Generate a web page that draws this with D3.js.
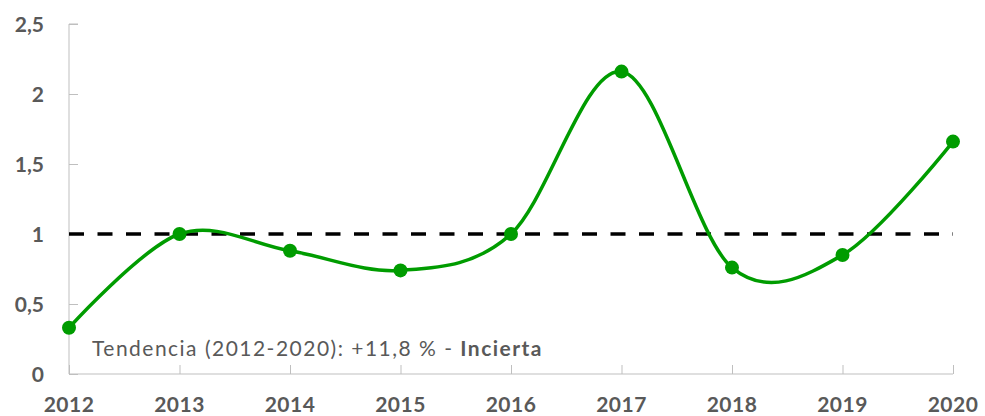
<!DOCTYPE html>
<html>
<head>
<meta charset="utf-8">
<script src="https://cdn.jsdelivr.net/npm/d3@7"></script>
<style>
  body { margin: 0; background: #fff; }
  svg text { font-family: Lato, "Open Sans", sans-serif; fill: #595959; }
</style>
</head>
<body>
<svg id="chart" width="985" height="416"></svg>
<script>
const years = [2012, 2013, 2014, 2015, 2016, 2017, 2018, 2019, 2020];
const values = [0.33, 1.0, 0.88, 0.74, 1.0, 2.16, 0.76, 0.85, 1.66];
const yTicks = [0, 0.5, 1, 1.5, 2, 2.5];
const refValue = 1;
const noteText = 'Tendencia (2012-2020): +11,8 % - ';
const noteBold = 'Incierta';

const svg = d3.select('#chart');
const margin = { left: 69, right: 32, top: 24, bottom: 42 };
const width = 985, height = 416;

const x = d3.scalePoint()
  .domain(years)
  .range([margin.left, width - margin.right]);

const y = d3.scaleLinear()
  .domain([0, 2.5])
  .range([height - margin.bottom, margin.top]);

const axisColor = '#bfbfbf';
const fmt = d => String(d).replace('.', ',');

// y axis
const yAxis = svg.append('g')
  .attr('transform', `translate(${margin.left},0)`)
  .call(d3.axisRight(y).tickValues(yTicks).tickSize(9).tickFormat(''));
yAxis.select('.domain').attr('stroke', axisColor).attr('d', `M9,${y(2.5)}H0V${y(0)}`);
yAxis.selectAll('.tick line').attr('stroke', axisColor);

svg.append('g').selectAll('text')
  .data(yTicks)
  .join('text')
  .attr('x', 44)
  .attr('y', d => y(d))
  .attr('dy', '0.36em')
  .attr('text-anchor', 'end')
  .style('font-size', '21px')
  .style('font-weight', 'bold')
  .text(fmt);

// x axis
const xAxis = svg.append('g')
  .attr('transform', `translate(0,${y(0)})`)
  .call(d3.axisTop(x).tickSize(9).tickFormat(''));
xAxis.select('.domain').attr('stroke', axisColor).attr('d', `M${x(2012)},0H${x(2020)}`);
xAxis.selectAll('.tick line').attr('stroke', axisColor);

svg.append('g').selectAll('text')
  .data(years)
  .join('text')
  .attr('x', d => x(d))
  .attr('y', 412)
  .attr('text-anchor', 'middle')
  .style('font-size', '21px')
  .style('font-weight', 'bold')
  .style('letter-spacing', '0.5px')
  .text(d => d);

// reference line
svg.append('line')
  .attr('x1', x(2012))
  .attr('x2', x(2020))
  .attr('y1', y(refValue))
  .attr('y2', y(refValue))
  .attr('stroke', '#000')
  .attr('stroke-width', 3.5)
  .attr('stroke-dasharray', '15 13.5');

// series
const line = d3.line()
  .x((d, i) => x(years[i]))
  .y(d => y(d))
  .curve(d3.curveCardinal.tension(0));

svg.append('path')
  .datum(values)
  .attr('d', line)
  .attr('fill', 'none')
  .attr('stroke', '#009c00')
  .attr('stroke-width', 3.5);

svg.append('g').selectAll('circle')
  .data(values)
  .join('circle')
  .attr('cx', (d, i) => x(years[i]))
  .attr('cy', d => y(d))
  .attr('r', 7)
  .attr('fill', '#009c00');

// trend note, stretched to the width it has in the original
const note = svg.append('text')
  .attr('x', 92)
  .attr('y', 356)
  .style('font-size', '21px');
note.append('tspan').text(noteText);
note.append('tspan').style('font-weight', 'bold').text(noteBold);

const targetWidth = 451;
const w = note.node().getComputedTextLength();
const nChars = (noteText + noteBold).length;
note.style('letter-spacing', `${Math.max(0, (targetWidth - w) / nChars)}px`);
</script>
</body>
</html>
